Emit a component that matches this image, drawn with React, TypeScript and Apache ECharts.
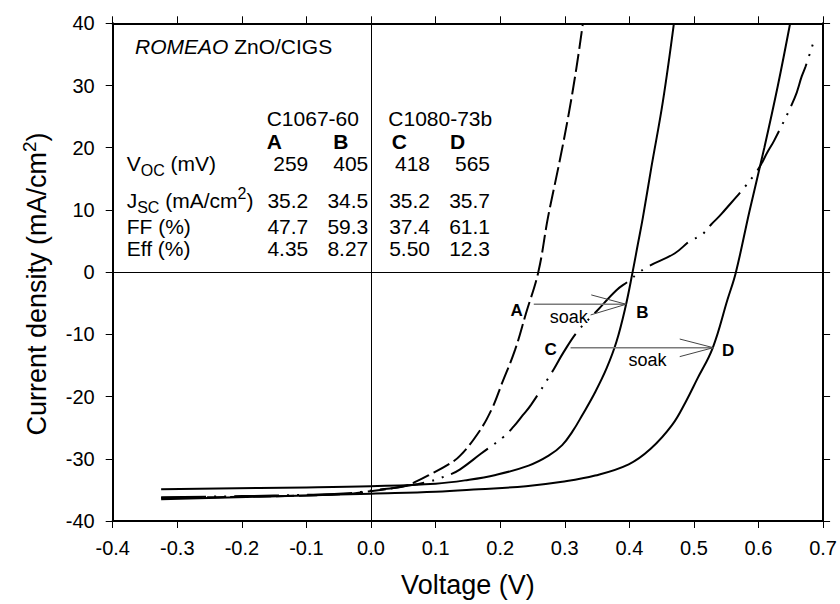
import React, { useEffect, useRef } from 'react';
import * as echarts from 'echarts';

// ---------- data ----------
const voltageTicks = { min: -0.4, max: 0.7, step: 0.1 };
const currentTicks = { min: -40, max: 40, step: 10 };

// Curve A (C1067-60, before soak) - dashed
const aV = [-0.325, -0.2, -0.1, -0.03, 0.0, 0.03, 0.055, 0.071, 0.09, 0.12, 0.138, 0.167, 0.187, 0.203, 0.223, 0.24, 0.259, 0.274, 0.29, 0.305, 0.318, 0.328];
const aJ = [-36.3, -36.1, -35.9, -35.6, -35.2, -34.8, -34.3, -33.6, -32.6, -30.9, -29.5, -25.7, -22.0, -17.8, -12.5, -6.6, 0, 8.8, 16.8, 24.8, 32.8, 40];

// Curve B (C1067-60, after soak) - solid
const bV = [-0.325, -0.1, 0.0, 0.1, 0.15, 0.193, 0.244, 0.275, 0.296, 0.312, 0.327, 0.347, 0.365, 0.38, 0.394, 0.405, 0.413, 0.421, 0.434, 0.452, 0.469];
const bJ = [-34.9, -34.6, -34.4, -34.0, -33.4, -32.6, -31.1, -29.5, -27.8, -25.6, -23.0, -19.3, -15.4, -11.2, -5.6, 0, 4.4, 8.8, 16.8, 27.5, 40];

// Curve C (C1080-73b, before soak) - dash-dot-dot
const cV = [-0.325, -0.2, -0.1, -0.03, 0.0, 0.04, 0.07, 0.089, 0.107, 0.123, 0.138, 0.17, 0.205, 0.221, 0.235, 0.248, 0.283, 0.298, 0.32, 0.35, 0.38, 0.398, 0.412, 0.428, 0.47, 0.495, 0.511, 0.527, 0.543, 0.596, 0.615, 0.624, 0.656, 0.667, 0.673, 0.687];
const cJ = [-36.2, -36.0, -35.8, -35.5, -35.1, -34.6, -34.1, -33.7, -33.1, -32.5, -31.7, -29.2, -26.5, -24.8, -23.0, -21.3, -15.6, -12.9, -9.5, -6.2, -2.9, -1.5, -0.3, 0.85, 3.0, 5.1, 5.9, 7.7, 9.4, 16.0, 19.5, 21.1, 28.0, 31.5, 33.1, 37.6];

// Curve D (C1080-73b, after soak) - solid
const dV = [-0.325, -0.1, 0.0, 0.1, 0.167, 0.24, 0.296, 0.347, 0.399, 0.433, 0.466, 0.487, 0.505, 0.529, 0.552, 0.565, 0.586, 0.609, 0.63, 0.649];
const dJ = [-36.5, -35.9, -35.6, -35.3, -34.9, -34.4, -33.7, -32.7, -30.9, -28.4, -24.6, -20.9, -17.2, -12.2, -4.4, 0, 9.8, 20, 30, 40];

// Soak arrows (data coordinates)
const arrowAB = [[0.252, -5.16], [0.395, -5.16]];
const arrowABHead = [[0.341, -3.66], [0.395, -5.16], [0.340, -6.88]];
const arrowCD = [[0.309, -12.14], [0.530, -12.14]];
const arrowCDHead = [[0.478, -10.75], [0.530, -12.14], [0.478, -13.58]];

// In-plot labels
const curveLabels = [
  { name: 'A', value: [0.2256, -6.2] },
  { name: 'B', value: [0.420, -6.56] },
  { name: 'C', value: [0.278, -12.5] },
  { name: 'D', value: [0.553, -12.6] },
];
const soakLabels = [
  { name: 'soak', value: [0.306, -7.15] },
  { name: 'soak', value: [0.428, -14.1] },
];

// Axis titles
const xTitle = 'Voltage (V)';
const yTitleMain = 'Current density (mA/cm';
const yTitleSup = '2';

// Table
const tableTitleItalic = 'ROMEAO';
const tableTitleRest = ' ZnO/CIGS';
const sampleGroups = ['C1067-60', 'C1080-73b'];
const deviceIds = ['A', 'B', 'C', 'D'];
const vocMv = ['259', '405', '418', '565'];
const jscMa = ['35.2', '34.5', '35.2', '35.7'];
const ffPct = ['47.7', '59.3', '37.4', '61.1'];
const effPct = ['4.35', '8.27', '5.50', '12.3'];

// ---------- styling ----------
const FONT = '"Liberation Sans", Arial, Helvetica, sans-serif';
const pts = (xs: number[], ys: number[]) => xs.map((x, i) => [x, ys[i]]);

function buildOption(): any {
  const tf = 21;
  const rowY = { title: 46.5, group: 118, id: 141, voc: 163, jsc: 200, ff: 226, eff: 248.5 };
  const labelX = 126.7;
  const colRight = [308.3, 368.3, 430, 490];
  const idLeft = [266.7, 333.3, 391.7, 450];
  const groupLeft = [266.7, 388.3];

  const rich = {
    n: { fontSize: tf, lineHeight: 30, fontFamily: FONT, fill: '#000', color: '#000' },
    i: { fontSize: tf, lineHeight: 30, fontFamily: FONT, fontStyle: 'italic', fill: '#000', color: '#000' },
    sub: { fontSize: 16, lineHeight: 20, verticalAlign: 'bottom', fontFamily: FONT, fill: '#000', color: '#000' },
    sup: { fontSize: 16, lineHeight: 6, verticalAlign: 'top', fontFamily: FONT, fill: '#000', color: '#000' },
  };

  const txt = (x: number, y: number, text: string, align = 'left', extra: any = {}) => ({
    type: 'text',
    x,
    y,
    silent: true,
    style: {
      text,
      fontSize: tf,
      fontFamily: FONT,
      fill: '#000',
      align,
      verticalAlign: 'middle',
      ...extra,
    },
  });

  const graphics: any[] = [];
  graphics.push(txt(135, rowY.title, `{i|${tableTitleItalic}}{n|${tableTitleRest}}`, 'left', { rich }));
  sampleGroups.forEach((g, k) => graphics.push(txt(groupLeft[k], rowY.group, g)));
  deviceIds.forEach((d, k) => graphics.push(txt(idLeft[k], rowY.id, d, 'left', { fontWeight: 'bold' })));
  graphics.push(txt(labelX, rowY.voc, '{n|V}{sub|OC}{n| (mV)}', 'left', { rich }));
  graphics.push(txt(labelX, rowY.jsc, '{n|J}{sub|SC}{n| (mA/cm}{sup|2}{n|)}', 'left', { rich }));
  graphics.push(txt(labelX, rowY.ff, 'FF (%)'));
  graphics.push(txt(labelX, rowY.eff, 'Eff (%)'));
  const rows: [string[], number][] = [[vocMv, rowY.voc], [jscMa, rowY.jsc], [ffPct, rowY.ff], [effPct, rowY.eff]];
  rows.forEach(([vals, y]) => vals.forEach((v, k) => graphics.push(txt(colRight[k], y, v, 'right'))));

  // rotated y-axis title
  graphics.push({
    type: 'text',
    x: 36.5,
    y: 284,
    rotation: Math.PI / 2,
    silent: true,
    style: {
      text: `{t|${yTitleMain}}{s|${yTitleSup}}{t|)}`,
      align: 'center',
      verticalAlign: 'middle',
      fill: '#000',
      rich: {
        t: { fontSize: 27, lineHeight: 34, fontFamily: FONT, fill: '#000', color: '#000' },
        s: { fontSize: 19, lineHeight: 12, verticalAlign: 'top', fontFamily: FONT, fill: '#000', color: '#000' },
      },
    },
  });

  const axisCommon = {
    type: 'value',
    axisLine: { show: true, onZero: false, lineStyle: { color: '#000', width: 2 } },
    axisTick: { show: true, inside: false, length: 7, lineStyle: { color: '#000', width: 1 } },
    splitLine: { show: false },
  };

  const xBase = { ...axisCommon, min: voltageTicks.min, max: voltageTicks.max, interval: voltageTicks.step };
  const yBase = { ...axisCommon, min: currentTicks.min, max: currentTicks.max, interval: currentTicks.step };

  const curve = (name: string, data: number[][], type: any) => ({
    name,
    type: 'line',
    data,
    showSymbol: false,
    symbol: 'none',
    smooth: 0.4,
    clip: true,
    silent: true,
    lineStyle: { color: '#000', width: 2, type, cap: 'butt' },
    z: 3,
  });

  const thin = (name: string, data: number[][], color: string, width: number) => ({
    name,
    type: 'line',
    data,
    showSymbol: false,
    symbol: 'none',
    silent: true,
    lineStyle: { color, width, type: 'solid' },
    z: 4,
  });

  const labelSeries = (name: string, data: any[], fontSize: number, fontWeight: string) => ({
    name,
    type: 'scatter',
    data,
    symbol: 'circle',
    symbolSize: 0,
    silent: true,
    itemStyle: { color: '#000', opacity: 1 },
    label: {
      show: true,
      position: 'inside',
      formatter: '{b}',
      fontSize,
      fontWeight,
      color: '#000',
      opacity: 1,
      textBorderWidth: 0,
      fontFamily: FONT,
    },
    z: 5,
  });

  return {
    animation: false,
    backgroundColor: '#fff',
    textStyle: { fontFamily: FONT },
    grid: { left: 112.7, right: 15, top: 23.3, bottom: 83, containLabel: false },
    xAxis: [
      {
        ...xBase,
        position: 'bottom',
        axisLabel: {
          margin: 17,
          fontSize: 20,
          color: '#000',
          fontFamily: FONT,
          formatter: (v: number) => (Math.abs(v) < 1e-9 ? 0 : v).toFixed(1),
        },
        name: xTitle,
        nameLocation: 'middle',
        nameGap: 50,
        nameTextStyle: { fontSize: 27, color: '#000', fontFamily: FONT },
      },
      { ...xBase, position: 'top', axisLabel: { show: false } },
    ],
    yAxis: [
      {
        ...yBase,
        position: 'left',
        axisLabel: { margin: 18, fontSize: 20, color: '#000', fontFamily: FONT },
      },
      { ...yBase, position: 'right', axisLabel: { show: false } },
    ],
    graphic: graphics,
    series: [
      {
        ...curve('D', pts(dV, dJ), 'solid'),
        markLine: {
          silent: true,
          symbol: ['none', 'none'],
          label: { show: false },
          lineStyle: { color: '#000', width: 1, type: 'solid' },
          emphasis: { disabled: true },
          data: [{ xAxis: 0 }, { yAxis: 0 }],
        },
      },
      curve('B', pts(bV, bJ), 'solid'),
      curve('A', pts(aV, aJ), [18, 5]),
      curve('C', pts(cV, cJ), [45, 8, 2, 8, 2, 8]),
      thin('arrowAB', arrowAB, '#7a7a7a', 1.5),
      thin('arrowABHead', arrowABHead, '#444', 1),
      thin('arrowCD', arrowCD, '#7a7a7a', 1.5),
      thin('arrowCDHead', arrowCDHead, '#444', 1),
      labelSeries('curveLabels', curveLabels, 17, 'bold'),
      labelSeries('soakLabels', soakLabels, 18, 'normal'),
    ],
  };
}

export default function App() {
  const ref = useRef<HTMLDivElement>(null);
  useEffect(() => {
    if (!ref.current) return;
    const chart = echarts.init(ref.current, undefined, { renderer: 'svg' });
    chart.setOption(buildOption());
    return () => chart.dispose();
  }, []);
  return (
    <div
      ref={ref}
      style={{ position: 'fixed', left: 0, top: 0, width: 840, height: 604, background: '#fff' }}
    />
  );
}
